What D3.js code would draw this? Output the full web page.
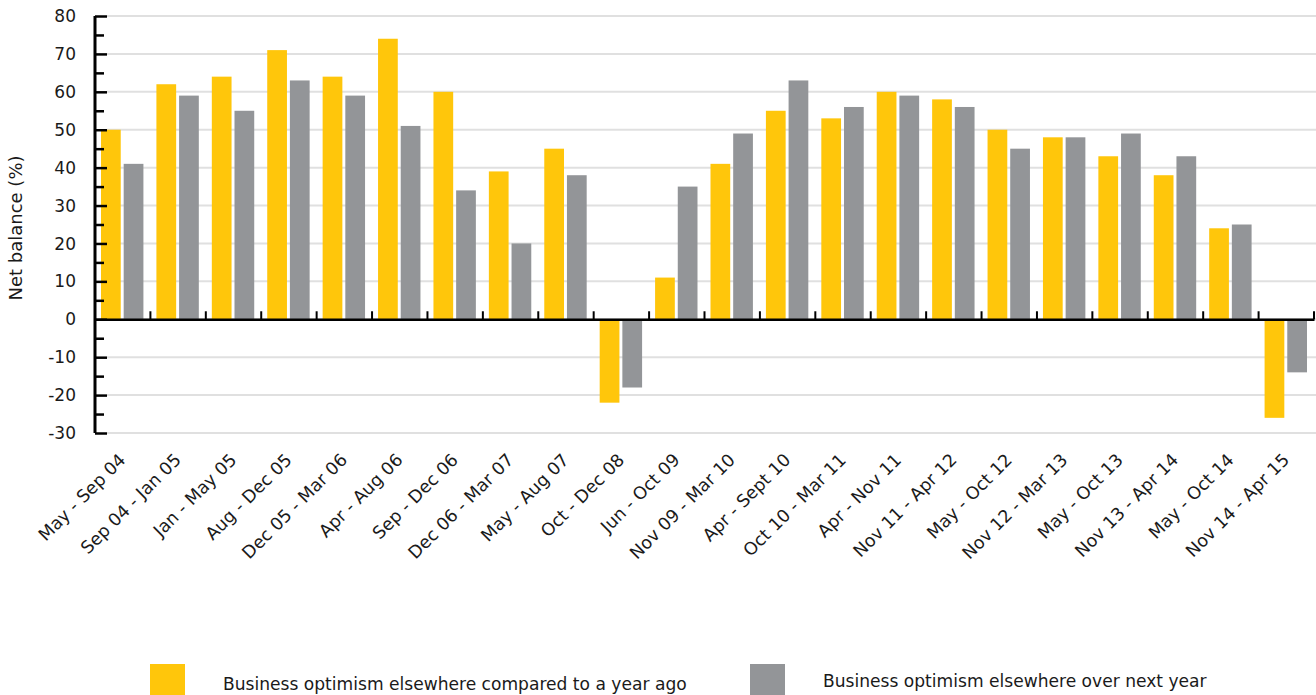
<!DOCTYPE html>
<style>
    body { margin: 0; background: #fff; }
    text { font-family: "DejaVu Sans", sans-serif; fill: #1a1a1a; }
</style>
<body>

<script src="https://d3js.org/d3.v7.min.js"></script>
<script>
    var categories = ["May - Sep 04", "Sep 04 - Jan 05", "Jan - May 05", "Aug - Dec 05", "Dec 05 - Mar 06",
        "Apr - Aug 06", "Sep - Dec 06", "Dec 06 - Mar 07", "May - Aug 07", "Oct - Dec 08", "Jun - Oct 09",
        "Nov 09 - Mar 10", "Apr - Sept 10", "Oct 10 - Mar 11", "Apr - Nov 11", "Nov 11 - Apr 12",
        "May - Oct 12", "Nov 12 - Mar 13", "May - Oct 13", "Nov 13 - Apr 14", "May - Oct 14", "Nov 14 - Apr 15"];
    var yearAgo = [50, 62, 64, 71, 64, 74, 60, 39, 45, -22, 11, 41, 55, 53, 60, 58, 50, 48, 43, 38, 24, -26];
    var nextYear = [41, 59, 55, 63, 59, 51, 34, 20, 38, -18, 35, 49, 63, 56, 59, 56, 45, 48, 49, 43, 25, -14];
    var seriesNames = ["Business optimism elsewhere compared to a year ago", "Business optimism elsewhere over next year"];
    var yTicks = [-30, -20, -10, 0, 10, 20, 30, 40, 50, 60, 70, 80];

    var colors = ["#ffc60b", "#939598"];
    var width = 1316, height = 695;

    var svg = d3.select("body").append("svg")
        .attr("width", width)
        .attr("height", height);

    var x0 = d3.scaleBand()
        .domain(categories)
        .range([95, 1314]);

    var x1 = d3.scaleBand()
        .domain([0, 1])
        .range([6, x0.bandwidth() - 7])
        .paddingInner(0.13);

    var y = d3.scaleLinear()
        .domain([-30, 80])
        .range([433, 16]);

    // gridlines
    svg.append("g")
        .selectAll("line")
        .data(yTicks)
        .enter().append("line")
        .attr("x1", 107)
        .attr("x2", width)
        .attr("y1", function(d) { return y(d); })
        .attr("y2", function(d) { return y(d); })
        .attr("stroke", "#e0e0e0")
        .attr("stroke-width", 2);

    var data = categories.map(function(c, i) {
        return { cat: c, values: [yearAgo[i], nextYear[i]] };
    });

    svg.append("g")
        .selectAll("g")
        .data(data)
        .enter().append("g")
        .attr("transform", function(d) { return "translate(" + x0(d.cat) + ",0)"; })
        .selectAll("rect")
        .data(function(d) { return d.values; })
        .enter().append("rect")
        .attr("x", function(d, i) { return x1(i); })
        .attr("width", x1.bandwidth())
        .attr("y", function(d) { return y(Math.max(0, d)); })
        .attr("height", function(d) { return Math.abs(y(d) - y(0)); })
        .attr("fill", function(d, i) { return colors[i]; });

    // zero line with category ticks
    svg.append("g")
        .attr("transform", "translate(0," + y(0) + ")")
        .call(d3.axisTop(x0).tickSizeInner(0).tickSizeOuter(0).tickFormat(""))
        .call(function(g) {
            g.select(".domain").attr("stroke", "#000").attr("stroke-width", 2.5);
            g.selectAll(".tick").remove();
        });
    svg.append("g")
        .selectAll("line")
        .data(categories)
        .enter().append("line")
        .attr("x1", function(d) { return x0(d) + x0.step(); })
        .attr("x2", function(d) { return x0(d) + x0.step(); })
        .attr("y1", y(0))
        .attr("y2", y(0) - 8)
        .attr("stroke", "#000")
        .attr("stroke-width", 2);

    // y axis
    var yAxis = svg.append("g")
        .attr("transform", "translate(95,0)");
    yAxis.call(d3.axisRight(y).tickValues(d3.range(-25, 80, 10)).tickSize(9).tickFormat(""))
        .call(function(g) { g.select(".domain").remove(); })
        .selectAll("line").attr("stroke", "#000").attr("stroke-width", 2.5);
    var yMajor = svg.append("g")
        .attr("transform", "translate(95,0)")
        .call(d3.axisRight(y).tickValues(yTicks).tickSize(12).tickSizeOuter(0).tickFormat(""));
    yMajor.select(".domain").attr("stroke", "#000").attr("stroke-width", 3).attr("d", "M0," + y(80) + "V" + y(-30));
    yMajor.selectAll("line").attr("stroke", "#000").attr("stroke-width", 2.5);

    svg.append("g")
        .selectAll("text")
        .data(yTicks)
        .enter().append("text")
        .attr("x", 76)
        .attr("y", function(d) { return y(d); })
        .attr("dy", "0.36em")
        .attr("text-anchor", "end")
        .attr("font-size", 17)
        .text(function(d) { return d; });

    svg.append("text")
        .attr("transform", "translate(22,228) rotate(-90)")
        .attr("text-anchor", "middle")
        .attr("font-size", 18)
        .text("Net balance (%)");

    // category labels
    svg.append("g")
        .selectAll("text")
        .data(categories)
        .enter().append("text")
        .attr("transform", function(d) {
            return "translate(" + (x0(d) + x0.bandwidth() / 2 + 4) + ",461) rotate(-45)";
        })
        .attr("text-anchor", "end")
        .attr("font-size", 17.5)
        .text(function(d) { return d; });

    // legend
    var legend = svg.append("g")
        .selectAll("g")
        .data(seriesNames)
        .enter().append("g")
        .attr("transform", function(d, i) { return "translate(" + (150 + i * 600) + ",0)"; });
    legend.append("rect")
        .attr("y", 664)
        .attr("width", 35)
        .attr("height", 31)
        .attr("fill", function(d, i) { return colors[i]; });
    legend.append("text")
        .attr("x", 73)
        .attr("y", function(d, i) { return i === 0 ? 690 : 687; })
        .attr("font-size", 17.1)
        .text(function(d) { return d; });
</script>
</body>
